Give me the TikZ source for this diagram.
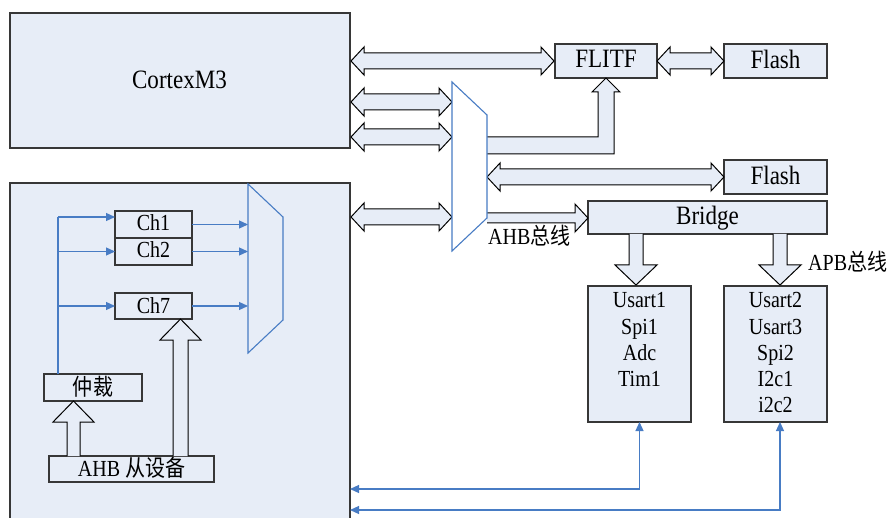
\documentclass[tikz,border=0pt]{standalone}
\usepackage{fontspec}
\setmainfont{Liberation Serif}
\newfontfamily\cjk{Noto Sans CJK SC}
\usetikzlibrary{arrows.meta,calc}
\definecolor{boxfill}{RGB}{231,237,247}
\definecolor{boxline}{RGB}{55,55,55}
\definecolor{busblue}{RGB}{72,124,196}
\newcommand\nx[1]{\scalebox{0.87}[1]{#1}}
\tikzset{
 box/.style={draw=boxline, line width=1.1pt, fill=boxfill, inner sep=0pt, outer sep=0pt},
 fat/.style={draw=black, line width=1pt, fill=boxfill, line join=miter},
 bl/.style={draw=busblue, line width=1.2pt},
 blarr/.style={bl, -{Triangle[length=9pt,width=8pt]}},
 bldbl/.style={bl, {Triangle[length=9pt,width=8pt]}-{Triangle[length=9pt,width=8pt]}},
 bigt/.style={font=\rmfamily\fontsize{26.5}{30}\selectfont, inner sep=0pt, anchor=base},
 smt/.style={font=\rmfamily\fontsize{23}{26}\selectfont, inner sep=0pt, anchor=base},
 muxline/.style={draw=busblue, line width=1.1pt},
}
\newcommand\dblarrow[3]{%
 \draw[fat] (#1,#3) -- (#1+13,#3-14) -- (#1+13,#3-8) -- (#2-13,#3-8) -- (#2-13,#3-14) -- (#2,#3) -- (#2-13,#3+14) -- (#2-13,#3+8) -- (#1+13,#3+8) -- (#1+13,#3+14) -- cycle;}
\begin{document}
\begin{tikzpicture}[x=1pt,y=-1pt]
\useasboundingbox (0,0) rectangle (893,518);
\fill[white] (0,0) rectangle (893,518);

% main boxes
\node[box, minimum width=340pt, minimum height=135pt] (cm) at (180,80.5) {};
\node[fill=boxfill, draw=none, inner sep=0pt, outer sep=0pt, minimum width=340pt, minimum height=335pt] (low) at (180,350.5) {};
\draw[draw=boxline, line width=1.1pt] (low.south west) -- (low.north west) -- (low.north east) -- (low.south east);

\node[box, minimum width=102pt, minimum height=34pt] (flitf) at (606,61) {};
\node[box, minimum width=103pt, minimum height=34pt] (flash1) at (775.5,61) {};
\node[box, minimum width=103pt, minimum height=34pt] (flash2) at (775.5,177) {};
\node[box, minimum width=239pt, minimum height=33pt] (bridge) at (707.5,217.5) {};
\node[box, minimum width=103pt, minimum height=136pt] (p1) at (639.5,354) {};
\node[box, minimum width=103pt, minimum height=136pt] (p2) at (775.5,354) {};

\node[box, minimum width=77pt, minimum height=27pt] (ch1) at (153.5,224.5) {};
\node[box, minimum width=77pt, minimum height=27pt] (ch2) at (153.5,251.5) {};
\node[box, minimum width=77pt, minimum height=26pt] (ch7) at (153.5,306) {};
\node[box, minimum width=98pt, minimum height=27pt] (arb) at (93,387.5) {};
\node[box, minimum width=165pt, minimum height=26pt] (ahb) at (131.5,469) {};

% fat double arrows
\dblarrow{351}{554}{61}
\dblarrow{657}{724}{61}
\dblarrow{351}{452}{102}
\dblarrow{351}{452}{137}
\dblarrow{351}{452}{217}
\dblarrow{487}{724}{177}

% elbow arrow mux -> FLITF
\draw[fat] (487,137) -- (598,137) -- (598,92) -- (592,92) -- (606,78) -- (620,92) -- (614,92) -- (614,154) -- (487,154);
% mux -> Bridge
\draw[fat] (487,213) -- (575,213) -- (575,204) -- (588,218) -- (575,232) -- (575,223) -- (487,223);
% Bridge -> peripherals
\draw[fat] (629,234) -- (629,265) -- (615,265) -- (636,285) -- (657,265) -- (643,265) -- (643,234);
\draw[fat] (773,234) -- (773,265) -- (759,265) -- (780,285) -- (801,265) -- (787,265) -- (787,234);
% inner up arrows
\draw[fat] (67,456) -- (67,422) -- (53,422) -- (73.5,401) -- (94,422) -- (80,422) -- (80,456);
\draw[fat] (173,456) -- (173,340) -- (160,340) -- (180.5,319) -- (201,340) -- (188,340) -- (188,456);

% muxes
\draw[muxline, fill=white] (452,82) -- (487,115) -- (487,218) -- (452,251) -- cycle;
\draw[muxline] (248,184) -- (283,217) -- (283,320) -- (248,353) -- cycle;
\coordinate (mx) at (248,0);

% blue bus inside lower box
\coordinate (busx) at (58,217);
\draw[bl] (arb.north -| busx) -- (busx);
\draw[blarr] (busx) -- (busx -| ch1.west);
\draw[blarr] (busx |- ch2.west) -- (ch2.west);
\draw[blarr] (busx |- ch7.west) -- (ch7.west);
\draw[blarr] (ch1.east) -- (ch1.east -| mx);
\draw[blarr] (ch2.east) -- (ch2.east -| mx);
\draw[blarr] (ch7.east) -- (ch7.east -| mx);

% bottom bus lines
\coordinate (yA) at (0,489);
\coordinate (yB) at (0,510);
\draw[bldbl] (p1.south) -- (p1.south |- yA) -- (low.east |- yA);
\draw[bldbl] (780,422) -- (780,510) -- (low.east |- yB);

% texts
\node[bigt] (tcm) at (179.5,89) {\nx{CortexM3}};
\node[bigt] (tflitf) at (606,68) {\nx{FLITF}};
\node[bigt] (tflash1) at (775.5,69) {\nx{Flash}};
\node[bigt] (tflash2) at (775.5,185) {\nx{Flash}};
\node[bigt] (tbridge) at (707.5,225) {\nx{Bridge}};

\node[smt] (ta1) at (639.5,308) {\nx{Usart1}};
\node[smt] (ta2) at (639.5,334) {\nx{Spi1}};
\node[smt] (ta3) at (639.5,360) {\nx{Adc}};
\node[smt] (ta4) at (639.5,386) {\nx{Tim1}};

\node[smt] (tb1) at (775.5,308) {\nx{Usart2}};
\node[smt] (tb2) at (775.5,334) {\nx{Usart3}};
\node[smt] (tb3) at (775.5,360) {\nx{Spi2}};
\node[smt] (tb4) at (775.5,386) {\nx{I2c1}};
\node[smt] (tb5) at (775.5,412) {\nx{i2c2}};

\node[smt] (tch1) at (153.5,231) {\nx{Ch1}};
\node[smt] (tch2) at (153.5,258) {\nx{Ch2}};
\node[smt] (tch7) at (153.5,313) {\nx{Ch7}};
\node[smt] (tarb) at (93,395) {\nx{\cjk 仲裁}};
\node[smt] (tahb) at (131.5,476) {\nx{AHB {\cjk 从设备}}};

\node[smt, anchor=base west] (tahbbus) at (488,245) {\nx{AHB{\cjk 总线}}};
\node[smt, anchor=base west] (tapbbus) at (808,271) {\nx{APB{\cjk 总线}}};
\end{tikzpicture}
\end{document}
